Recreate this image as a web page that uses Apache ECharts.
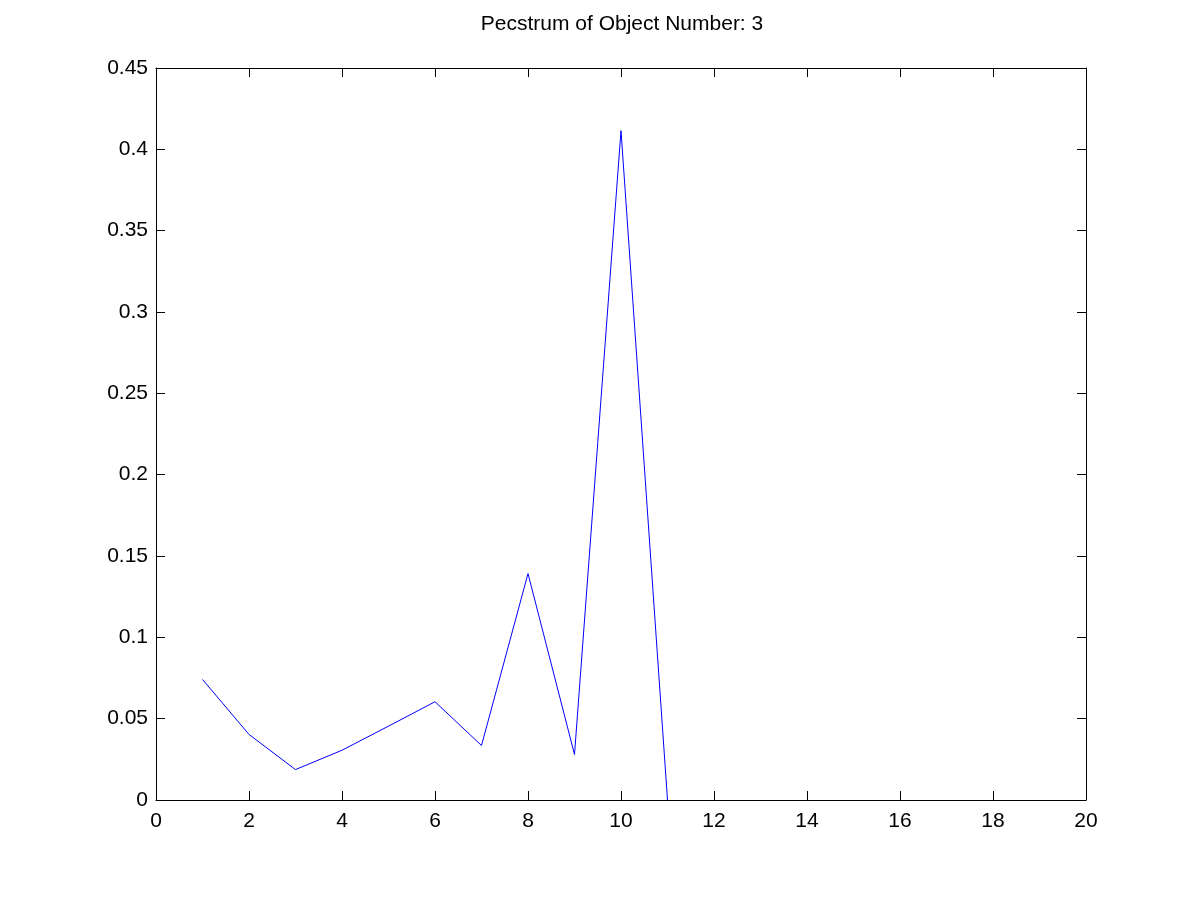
<!DOCTYPE html>
<html>
<head>
<meta charset="utf-8">
<script src="https://cdn.jsdelivr.net/npm/echarts@6/dist/echarts.min.js"></script>
<style>html,body{margin:0;padding:0;background:#fff;}#c{width:1200px;height:900px;}</style>
</head>
<body>
<div id="c"></div>
<script>
var titleText = 'Pecstrum of Object Number: 3';
var xValues = [1, 2, 3, 4, 5, 6, 7, 8, 9, 10, 11];
var yValues = [0.0741, 0.0403, 0.0187, 0.0306, 0.0454, 0.0604, 0.0335, 0.1392, 0.0280, 0.4115, 0];
var xTicks = [0, 2, 4, 6, 8, 10, 12, 14, 16, 18, 20];
var yTicks = [0, 0.05, 0.1, 0.15, 0.2, 0.25, 0.3, 0.35, 0.4, 0.45];

var font = '"Liberation Sans", Arial, sans-serif';
var data = xValues.map(function (x, i) { return [x, yValues[i]]; });
var axisLine = { show: true, onZero: false, lineStyle: { color: '#000', width: 1 } };
var tick = { show: true, inside: true, length: 9, lineStyle: { color: '#000', width: 1 } };

var chart = echarts.init(document.getElementById('c'), null, { renderer: 'canvas' });
chart.setOption({
  animation: false,
  backgroundColor: '#fff',
  title: {
    text: titleText, left: 617, top: 9, textAlign: 'center',
    textStyle: { fontFamily: font, fontSize: 21, fontWeight: 'normal', color: '#000' }
  },
  grid: { left: 156, right: 114, top: 68, bottom: 100, containLabel: false, show: false },
  xAxis: [{
    type: 'value', min: xTicks[0], max: xTicks[xTicks.length - 1], interval: 2,
    position: 'bottom', axisLine: axisLine, axisTick: tick, splitLine: { show: false },
    axisLabel: { fontFamily: font, fontSize: 21, color: '#000', margin: 11 }
  }, {
    type: 'value', min: xTicks[0], max: xTicks[xTicks.length - 1], interval: 2,
    position: 'top', axisLine: axisLine, axisTick: tick, splitLine: { show: false },
    axisLabel: { show: false }
  }],
  yAxis: [{
    type: 'value', min: yTicks[0], max: yTicks[yTicks.length - 1], interval: 0.05,
    position: 'left', axisLine: axisLine, axisTick: tick, splitLine: { show: false },
    axisLabel: { fontFamily: font, fontSize: 21, color: '#000', margin: 8,
      formatter: function (v) { return String(Math.round(v * 100) / 100); } }
  }, {
    type: 'value', min: yTicks[0], max: yTicks[yTicks.length - 1], interval: 0.05,
    position: 'right', axisLine: axisLine, axisTick: tick, splitLine: { show: false },
    axisLabel: { show: false }
  }],
  series: [{
    type: 'line', data: data, xAxisIndex: 0, yAxisIndex: 0,
    showSymbol: false, symbol: 'none', smooth: false,
    lineStyle: { color: '#0000ff', width: 1 }, z: 1
  }]
});
</script>
</body>
</html>
